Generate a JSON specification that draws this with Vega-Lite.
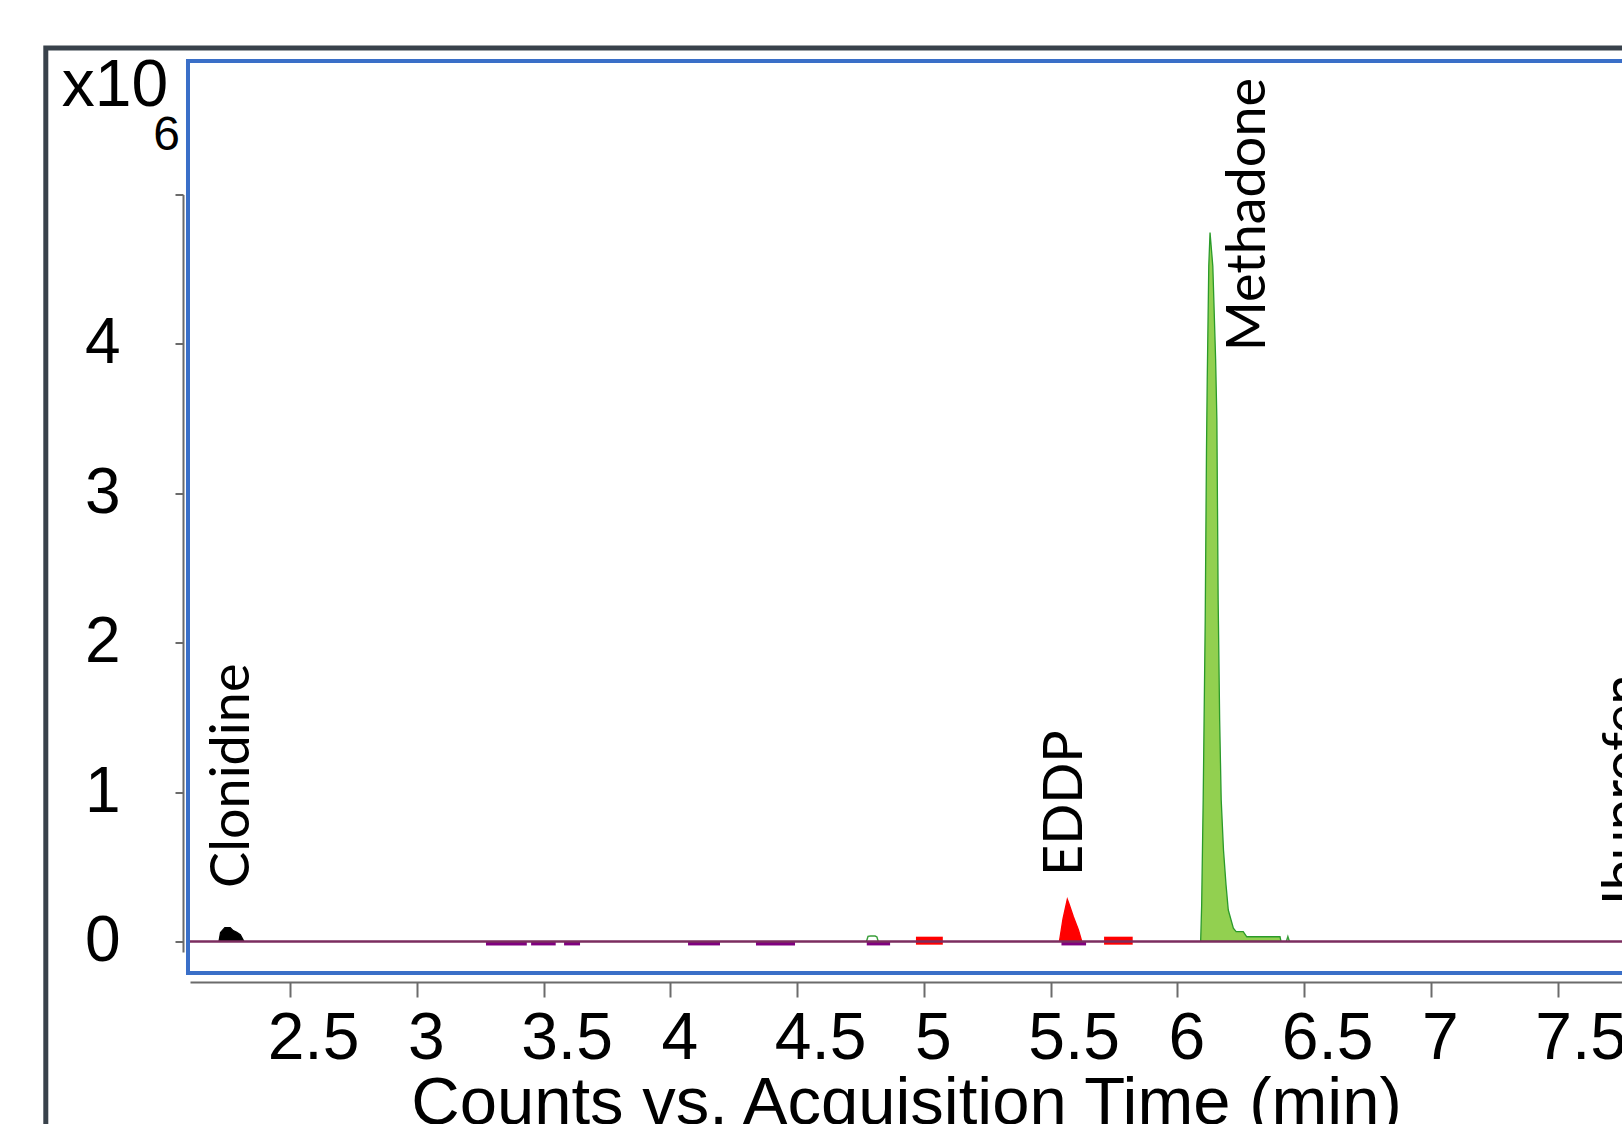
{
  "$schema": "https://vega.github.io/schema/vega-lite/v6.json",
  "autosize": {"type": "none"},
  "width": 1432,
  "height": 757.5,
  "padding": {"left": 190, "top": 194.5, "right": 0, "bottom": 172},
  "background": "white",
  "config": {
    "view": {"stroke": null},
    "axis": {
      "labelFont": "Liberation Sans",
      "titleFont": "Liberation Sans",
      "labelColor": "#000000",
      "titleColor": "#000000",
      "titleFontWeight": "normal",
      "domainColor": "#6b6b6b",
      "domainWidth": 2,
      "tickColor": "#6b6b6b",
      "tickWidth": 2,
      "grid": false,
      "labelFlush": false,
      "labelOverlap": false
    },
    "axisX": {
      "offset": 30,
      "tickSize": 15,
      "labelFontSize": 66,
      "labelPadding": 9,
      "titleFontSize": 67,
      "titleY": 141,
      "titleBaseline": "alphabetic"
    },
    "axisY": {
      "offset": 7,
      "tickSize": 8,
      "labelFontSize": 64,
      "labelPadding": 55
    }
  },
  "datasets": {
    "peaks": [
      {"compound": "Clonidine", "t": 2.22, "y": 0},
      {"compound": "Clonidine", "t": 2.226, "y": 0.06},
      {"compound": "Clonidine", "t": 2.243, "y": 0.092},
      {"compound": "Clonidine", "t": 2.264, "y": 0.092},
      {"compound": "Clonidine", "t": 2.276, "y": 0.072},
      {"compound": "Clonidine", "t": 2.29, "y": 0.06},
      {"compound": "Clonidine", "t": 2.304, "y": 0.045},
      {"compound": "Clonidine", "t": 2.318, "y": 0},
      {"compound": "EDDP", "t": 5.535, "y": 0},
      {"compound": "EDDP", "t": 5.549, "y": 0.15},
      {"compound": "EDDP", "t": 5.566, "y": 0.282},
      {"compound": "EDDP", "t": 5.573, "y": 0.25},
      {"compound": "EDDP", "t": 5.59, "y": 0.165},
      {"compound": "EDDP", "t": 5.61, "y": 0.076},
      {"compound": "EDDP", "t": 5.623, "y": 0},
      {"compound": "Methadone", "t": 6.092, "y": 0},
      {"compound": "Methadone", "t": 6.096, "y": 0.244},
      {"compound": "Methadone", "t": 6.102, "y": 0.95},
      {"compound": "Methadone", "t": 6.11, "y": 2.15},
      {"compound": "Methadone", "t": 6.115, "y": 3.29},
      {"compound": "Methadone", "t": 6.118, "y": 3.76},
      {"compound": "Methadone", "t": 6.124, "y": 4.52},
      {"compound": "Methadone", "t": 6.129, "y": 4.746},
      {"compound": "Methadone", "t": 6.14, "y": 4.52},
      {"compound": "Methadone", "t": 6.151, "y": 3.9},
      {"compound": "Methadone", "t": 6.156, "y": 3.49},
      {"compound": "Methadone", "t": 6.161, "y": 2.29},
      {"compound": "Methadone", "t": 6.167, "y": 1.48},
      {"compound": "Methadone", "t": 6.173, "y": 0.95},
      {"compound": "Methadone", "t": 6.182, "y": 0.613},
      {"compound": "Methadone", "t": 6.192, "y": 0.38},
      {"compound": "Methadone", "t": 6.201, "y": 0.21},
      {"compound": "Methadone", "t": 6.221, "y": 0.088},
      {"compound": "Methadone", "t": 6.232, "y": 0.065},
      {"compound": "Methadone", "t": 6.26, "y": 0.065},
      {"compound": "Methadone", "t": 6.274, "y": 0.031},
      {"compound": "Methadone", "t": 6.405, "y": 0.031},
      {"compound": "Methadone", "t": 6.409, "y": 0}
    ],
    "blips": [
      {"id": "a", "t": 4.774, "y": 0},
      {"id": "a", "t": 4.78, "y": 0.034},
      {"id": "a", "t": 4.79, "y": 0.036},
      {"id": "a", "t": 4.808, "y": 0.036},
      {"id": "a", "t": 4.815, "y": 0.03},
      {"id": "a", "t": 4.82, "y": 0},
      {"id": "b", "t": 6.43, "y": 0},
      {"id": "b", "t": 6.436, "y": 0.031},
      {"id": "b", "t": 6.442, "y": 0}
    ],
    "bands": [
      {"kind": "purple", "t": 3.273, "t2": 3.434, "y": 0, "y2": -0.027},
      {"kind": "purple", "t": 3.451, "t2": 3.548, "y": 0, "y2": -0.027},
      {"kind": "purple", "t": 3.581, "t2": 3.644, "y": 0, "y2": -0.027},
      {"kind": "purple", "t": 4.07, "t2": 4.196, "y": 0, "y2": -0.027},
      {"kind": "purple", "t": 4.338, "t2": 4.492, "y": 0, "y2": -0.027},
      {"kind": "purple", "t": 4.775, "t2": 4.867, "y": 0, "y2": -0.027},
      {"kind": "purple", "t": 5.543, "t2": 5.64, "y": 0, "y2": -0.027},
      {"kind": "red", "t": 4.969, "t2": 5.075, "y": 0.0315, "y2": -0.022},
      {"kind": "red", "t": 5.711, "t2": 5.824, "y": 0.0315, "y2": -0.022}
    ],
    "labels": [
      {"name": "Clonidine", "t": 2.275, "y": 0.358},
      {"name": "EDDP", "t": 5.559, "y": 0.438},
      {"name": "Methadone", "t": 6.281, "y": 3.95},
      {"name": "Ibuprofen", "t": 7.766, "y": 0.244}
    ]
  },
  "layer": [
    {
      "data": {"values": [{}]},
      "mark": {"type": "rect", "fill": "transparent", "stroke": "#39424b", "strokeWidth": 5},
      "encoding": {
        "x": {"datum": 1.5367, "type": "quantitative", "title": "Counts vs. Acquisition Time (min)", "scale": {"domain": [2.1055, 7.754], "nice": false, "zero": false}, "axis": {"values": [2.5, 3, 3.5, 4, 4.5, 5, 5.5, 6, 6.5, 7, 7.5], "format": "~g", "labelOffset": {"condition": {"test": "datum.value % 1 != 0", "value": 23}, "value": 9}}},
        "x2": {"datum": 9},
        "y": {"datum": 5.981, "type": "quantitative", "title": null, "scale": {"domain": [-0.071, 5.0], "nice": false, "zero": false}, "axis": {"values": [0, 1, 2, 3, 4, 5], "format": "~g", "labelExpr": "datum.value == 5 ? '' : datum.label"}},
        "y2": {"datum": -1.5}
      }
    },
    {
      "data": {"values": [{}]},
      "mark": {"type": "rect", "fill": "transparent", "stroke": "#3a6fc8", "strokeWidth": 4},
      "encoding": {
        "x": {"datum": 2.0976, "type": "quantitative", "title": "Counts vs. Acquisition Time (min)", "scale": {"domain": [2.1055, 7.754], "nice": false, "zero": false}, "axis": {"values": [2.5, 3, 3.5, 4, 4.5, 5, 5.5, 6, 6.5, 7, 7.5], "format": "~g", "labelOffset": {"condition": {"test": "datum.value % 1 != 0", "value": 23}, "value": 9}}},
        "x2": {"datum": 8.5},
        "y": {"datum": 5.894, "type": "quantitative", "title": null, "scale": {"domain": [-0.071, 5.0], "nice": false, "zero": false}, "axis": {"values": [0, 1, 2, 3, 4, 5], "format": "~g", "labelExpr": "datum.value == 5 ? '' : datum.label"}},
        "y2": {"datum": -0.212}
      }
    },
    {
      "data": {"name": "bands"},
      "mark": {"type": "rect", "strokeWidth": 0},
      "encoding": {
        "x": {"field": "t", "type": "quantitative", "title": "Counts vs. Acquisition Time (min)", "scale": {"domain": [2.1055, 7.754], "nice": false, "zero": false}, "axis": {"values": [2.5, 3, 3.5, 4, 4.5, 5, 5.5, 6, 6.5, 7, 7.5], "format": "~g", "labelOffset": {"condition": {"test": "datum.value % 1 != 0", "value": 23}, "value": 9}}},
        "x2": {"field": "t2"},
        "y": {"field": "y", "type": "quantitative", "title": null, "scale": {"domain": [-0.071, 5.0], "nice": false, "zero": false}, "axis": {"values": [0, 1, 2, 3, 4, 5], "format": "~g", "labelExpr": "datum.value == 5 ? '' : datum.label"}},
        "y2": {"field": "y2"},
        "fill": {"field": "kind", "type": "nominal", "scale": {"domain": ["purple", "red"], "range": ["#800080", "#ff0000"]}, "legend": null}
      }
    },
    {
      "data": {"name": "peaks"},
      "mark": {"type": "area", "strokeWidth": 1.3, "interpolate": "linear"},
      "encoding": {
        "x": {"field": "t", "type": "quantitative", "title": "Counts vs. Acquisition Time (min)", "scale": {"domain": [2.1055, 7.754], "nice": false, "zero": false}, "axis": {"values": [2.5, 3, 3.5, 4, 4.5, 5, 5.5, 6, 6.5, 7, 7.5], "format": "~g", "labelOffset": {"condition": {"test": "datum.value % 1 != 0", "value": 23}, "value": 9}}},
        "y": {"field": "y", "type": "quantitative", "title": null, "stack": null, "scale": {"domain": [-0.071, 5.0], "nice": false, "zero": false}, "axis": {"values": [0, 1, 2, 3, 4, 5], "format": "~g", "labelExpr": "datum.value == 5 ? '' : datum.label"}},
        "color": {"field": "compound", "type": "nominal", "scale": {"domain": ["Clonidine", "EDDP", "Methadone"], "range": ["#000000", "#ff0000", "#92d050"]}, "legend": null},
        "stroke": {"field": "compound", "type": "nominal", "scale": {"domain": ["Clonidine", "EDDP", "Methadone"], "range": ["#000000", "#ff0000", "#2a9a2a"]}, "legend": null}
      }
    },
    {
      "data": {"name": "blips"},
      "mark": {"type": "line", "color": "#3a9e3a", "strokeWidth": 1.5},
      "encoding": {
        "x": {"field": "t", "type": "quantitative", "title": "Counts vs. Acquisition Time (min)", "scale": {"domain": [2.1055, 7.754], "nice": false, "zero": false}, "axis": {"values": [2.5, 3, 3.5, 4, 4.5, 5, 5.5, 6, 6.5, 7, 7.5], "format": "~g", "labelOffset": {"condition": {"test": "datum.value % 1 != 0", "value": 23}, "value": 9}}},
        "y": {"field": "y", "type": "quantitative", "title": null, "scale": {"domain": [-0.071, 5.0], "nice": false, "zero": false}, "axis": {"values": [0, 1, 2, 3, 4, 5], "format": "~g", "labelExpr": "datum.value == 5 ? '' : datum.label"}},
        "detail": {"field": "id", "type": "nominal"}
      }
    },
    {
      "data": {"values": [{}]},
      "mark": {"type": "rule", "color": "#7b2d5f", "strokeWidth": 2.5},
      "encoding": {
        "y": {"datum": 0, "type": "quantitative", "title": null, "scale": {"domain": [-0.071, 5.0], "nice": false, "zero": false}, "axis": {"values": [0, 1, 2, 3, 4, 5], "format": "~g", "labelExpr": "datum.value == 5 ? '' : datum.label"}}
      }
    },
    {
      "data": {"name": "labels"},
      "mark": {"type": "text", "angle": 270, "align": "left", "baseline": "middle", "font": "Lato", "fontSize": 54, "color": "#000000"},
      "encoding": {
        "x": {"field": "t", "type": "quantitative", "title": "Counts vs. Acquisition Time (min)", "scale": {"domain": [2.1055, 7.754], "nice": false, "zero": false}, "axis": {"values": [2.5, 3, 3.5, 4, 4.5, 5, 5.5, 6, 6.5, 7, 7.5], "format": "~g", "labelOffset": {"condition": {"test": "datum.value % 1 != 0", "value": 23}, "value": 9}}},
        "y": {"field": "y", "type": "quantitative", "title": null, "scale": {"domain": [-0.071, 5.0], "nice": false, "zero": false}, "axis": {"values": [0, 1, 2, 3, 4, 5], "format": "~g", "labelExpr": "datum.value == 5 ? '' : datum.label"}},
        "text": {"field": "name", "type": "nominal"}
      }
    },
    {
      "data": {"values": [{}]},
      "mark": {"type": "text", "text": "x10", "align": "left", "baseline": "alphabetic", "font": "Liberation Sans", "fontSize": 66, "color": "#000000"},
      "encoding": {
        "x": {"datum": 1.5994, "type": "quantitative", "title": "Counts vs. Acquisition Time (min)", "scale": {"domain": [2.1055, 7.754], "nice": false, "zero": false}, "axis": {"values": [2.5, 3, 3.5, 4, 4.5, 5, 5.5, 6, 6.5, 7, 7.5], "format": "~g", "labelOffset": {"condition": {"test": "datum.value % 1 != 0", "value": 23}, "value": 9}}},
        "y": {"datum": 5.59, "type": "quantitative", "title": null, "scale": {"domain": [-0.071, 5.0], "nice": false, "zero": false}, "axis": {"values": [0, 1, 2, 3, 4, 5], "format": "~g", "labelExpr": "datum.value == 5 ? '' : datum.label"}}
      }
    },
    {
      "data": {"values": [{}]},
      "mark": {"type": "text", "text": "6", "align": "right", "baseline": "alphabetic", "font": "Liberation Sans", "fontSize": 48, "color": "#000000"},
      "encoding": {
        "x": {"datum": 2.066, "type": "quantitative", "title": "Counts vs. Acquisition Time (min)", "scale": {"domain": [2.1055, 7.754], "nice": false, "zero": false}, "axis": {"values": [2.5, 3, 3.5, 4, 4.5, 5, 5.5, 6, 6.5, 7, 7.5], "format": "~g", "labelOffset": {"condition": {"test": "datum.value % 1 != 0", "value": 23}, "value": 9}}},
        "y": {"datum": 5.2995, "type": "quantitative", "title": null, "scale": {"domain": [-0.071, 5.0], "nice": false, "zero": false}, "axis": {"values": [0, 1, 2, 3, 4, 5], "format": "~g", "labelExpr": "datum.value == 5 ? '' : datum.label"}}
      }
    }
  ]
}
